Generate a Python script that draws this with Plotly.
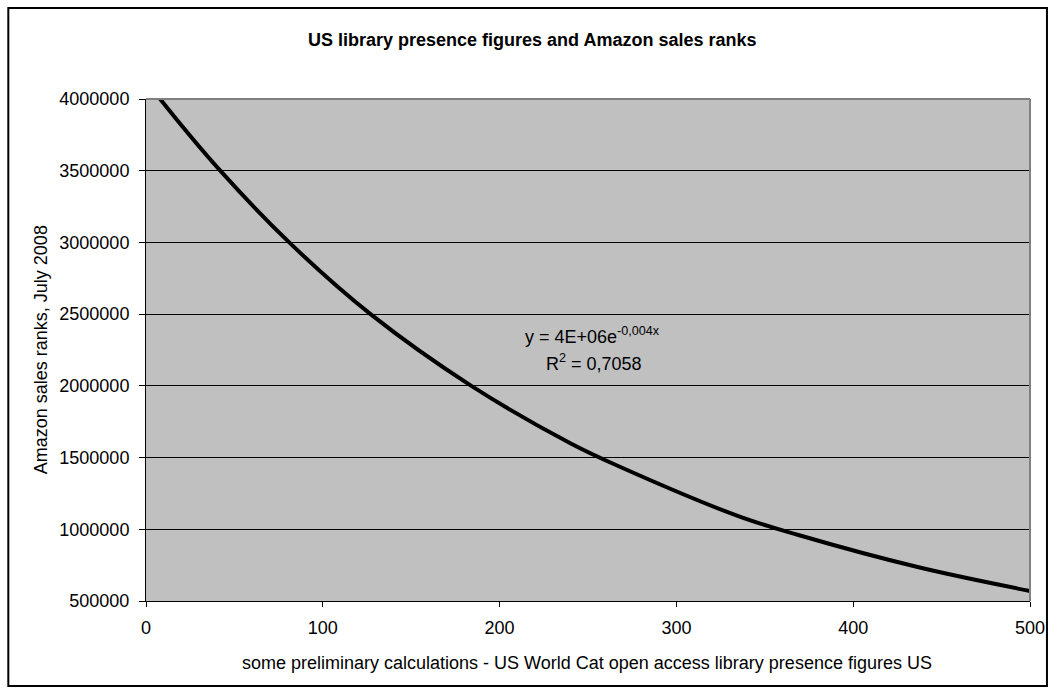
import plotly.graph_objects as go

presence = [0, 8, 42, 81, 127, 184, 240, 268, 335, 369, 437, 500]
sales_rank = [4130000, 4000000, 3500000, 3000000, 2500000, 2000000,
              1600000, 1436000, 1092000, 960000, 735000, 570000]

x_ticks = [0, 100, 200, 300, 400, 500]
y_ticks = [500000, 1000000, 1500000, 2000000, 2500000, 3000000, 3500000, 4000000]

title_text = "US library presence figures and Amazon sales ranks"
x_title = "some preliminary calculations - US World Cat open access library presence figures US"
y_title = "Amazon sales ranks, July 2008"
eq_line1 = "y = 4E+06e<sup>-0,004x</sup>"
eq_line2 = "R<sup>2</sup> = 0,7058"

FONT = "Liberation Sans, Arial, sans-serif"

W, H = 1057, 693
L, R, T, B = 146, 25, 99, 92
pw, ph = W - L - R, H - T - B


def px_x(p):
    return (p - L) / pw


def px_y(p):
    return (H - B - p) / ph


fig = go.Figure()
fig.add_trace(go.Scatter(
    x=presence, y=sales_rank, mode="lines",
    line=dict(color="black", width=4, shape="spline", smoothing=1.0),
    hoverinfo="skip", showlegend=False,
))

fig.update_layout(
    width=W, height=H,
    margin=dict(l=L, r=R, t=T, b=B),
    paper_bgcolor="white",
    plot_bgcolor="#C0C0C0",
    font=dict(family=FONT, color="black", size=18),
    showlegend=False,
    xaxis=dict(
        range=[0, 500], tickvals=x_ticks, ticktext=[str(v) for v in x_ticks],
        showgrid=False, zeroline=False,
        showline=True, linecolor="black", linewidth=1,
        ticks="outside", ticklen=5, tickcolor="black", tickwidth=1,
        ticklabelstandoff=5,
        tickfont=dict(size=18, family=FONT),
    ),
    yaxis=dict(
        range=[500000, 4000000], tickvals=y_ticks, ticktext=[str(v) for v in y_ticks],
        showgrid=True, gridcolor="black", gridwidth=1, zeroline=False,
        showline=True, linecolor="black", linewidth=1,
        ticks="outside", ticklen=6, tickcolor="black", tickwidth=1,
        ticklabelstandoff=6,
        tickfont=dict(size=18, family=FONT),
    ),
    annotations=[
        dict(text="<b>" + title_text + "</b>", xref="paper", yref="paper",
             x=px_x(533), y=px_y(40), xanchor="center", yanchor="middle",
             showarrow=False, font=dict(size=18, family=FONT)),
        dict(text=x_title, xref="paper", yref="paper",
             x=px_x(588), y=px_y(663), xanchor="center", yanchor="middle",
             showarrow=False, font=dict(size=18, family=FONT)),
        dict(text=y_title, xref="paper", yref="paper", textangle=-90,
             x=px_x(41), y=px_y(350), xanchor="center", yanchor="middle",
             showarrow=False, font=dict(size=18, family=FONT)),
        dict(text=eq_line1, xref="paper", yref="paper",
             x=px_x(594), y=px_y(335), xanchor="center", yanchor="middle",
             showarrow=False, font=dict(size=18, family=FONT)),
        dict(text=eq_line2, xref="paper", yref="paper",
             x=px_x(595), y=px_y(362), xanchor="center", yanchor="middle",
             showarrow=False, font=dict(size=18, family=FONT)),
    ],
    shapes=[
        # grey top and right border of plot area
        dict(type="line", xref="paper", yref="paper", x0=0, x1=1, y0=1, y1=1,
             line=dict(color="#808080", width=2), layer="above"),
        dict(type="line", xref="paper", yref="paper", x0=1, x1=1, y0=0, y1=1,
             line=dict(color="#808080", width=2), layer="above"),
        # chart outer frame
        dict(type="rect", xref="paper", yref="paper",
             x0=px_x(8), x1=px_x(1049), y0=px_y(686), y1=px_y(8),
             line=dict(color="black", width=2), fillcolor="rgba(0,0,0,0)",
             layer="above"),
    ],
)

fig.write_html(
    "out.html",
    config={"displayModeBar": False},
    post_script="document.body.style.margin='0';document.body.style.padding='0';",
)
